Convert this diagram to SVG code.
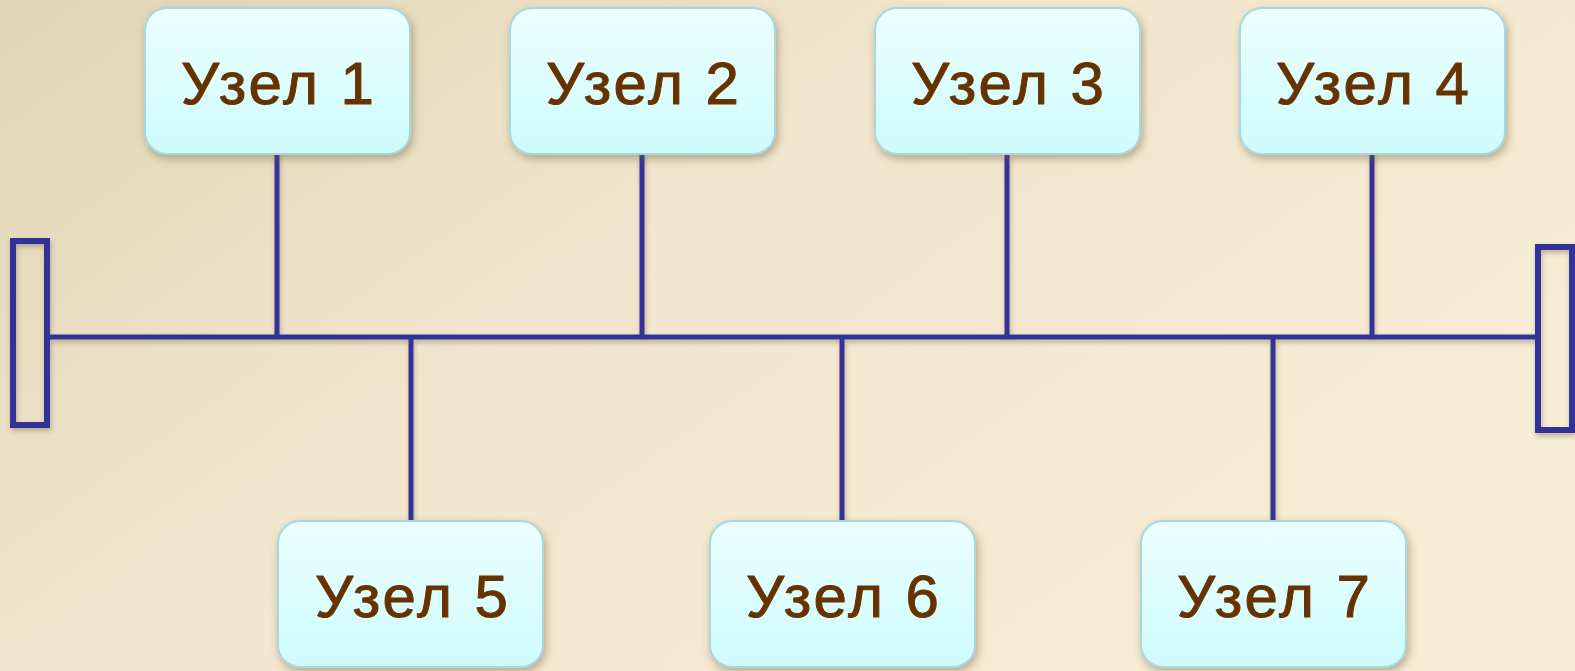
<svg xmlns="http://www.w3.org/2000/svg" width="1575" height="671" viewBox="0 0 1575 671">
  <defs>
    <linearGradient id="bg" x1="0" y1="0" x2="1" y2="0.6">
      <stop offset="0" stop-color="#e0d5b6"/>
      <stop offset="0.45" stop-color="#f1e6cd"/>
      <stop offset="1" stop-color="#f7ecd4"/>
    </linearGradient>
    <linearGradient id="boxFill" x1="0" y1="0" x2="0" y2="1">
      <stop offset="0" stop-color="#ecffff"/>
      <stop offset="1" stop-color="#cefbfd"/>
    </linearGradient>
    <filter id="shadow" x="-20%" y="-20%" width="140%" height="150%">
      <feDropShadow dx="2" dy="4" stdDeviation="4" flood-color="#6b5a3a" flood-opacity="0.45"/>
    </filter>
    <filter id="lineShadow" x="-5%" y="-50%" width="110%" height="200%">
      <feDropShadow dx="1" dy="3" stdDeviation="2.5" flood-color="#6b5a3a" flood-opacity="0.4"/>
    </filter>
  </defs>
  <style>
    .box { fill: url(#boxFill); stroke: #a9d7dc; stroke-width: 2; filter: url(#shadow); }
    .label { font-family: "Liberation Sans", "DejaVu Sans", sans-serif; font-size: 60px; letter-spacing: 3px; fill: #663300; stroke: #663300; stroke-width: 1; stroke-linejoin: round; text-anchor: middle; }
    .wire { stroke: #333399; stroke-width: 5; fill: none; }
    .term { stroke: #333399; stroke-width: 6; fill: none; }
  </style>

  <rect x="0" y="0" width="1575" height="671" fill="url(#bg)"/>

  <!-- bus, terminators and drop lines -->
  <g id="connectors" filter="url(#lineShadow)">
    <line class="wire" x1="48" y1="337" x2="1536" y2="337"/>
    <line class="wire" x1="277" y1="153" x2="277" y2="337"/>
    <line class="wire" x1="642" y1="153" x2="642" y2="337"/>
    <line class="wire" x1="1007" y1="153" x2="1007" y2="337"/>
    <line class="wire" x1="1372" y1="153" x2="1372" y2="337"/>
    <line class="wire" x1="411" y1="337" x2="411" y2="522"/>
    <line class="wire" x1="842" y1="337" x2="842" y2="522"/>
    <line class="wire" x1="1273" y1="337" x2="1273" y2="522"/>
    <rect class="term" x="13" y="241" width="34" height="184"/>
    <rect class="term" x="1538" y="247" width="34" height="183"/>
  </g>

  <g id="node1">
    <rect class="box" x="145" y="8" width="265" height="146" rx="22"/>
    <text class="label" x="279" y="104">Узел 1</text>
  </g>
  <g id="node2">
    <rect class="box" x="510" y="8" width="265" height="146" rx="22"/>
    <text class="label" x="644" y="104">Узел 2</text>
  </g>
  <g id="node3">
    <rect class="box" x="875" y="8" width="265" height="146" rx="22"/>
    <text class="label" x="1009" y="104">Узел 3</text>
  </g>
  <g id="node4">
    <rect class="box" x="1240" y="8" width="265" height="146" rx="22"/>
    <text class="label" x="1374" y="104">Узел 4</text>
  </g>
  <g id="node5">
    <rect class="box" x="278" y="521" width="265" height="146" rx="22"/>
    <text class="label" x="413" y="617">Узел 5</text>
  </g>
  <g id="node6">
    <rect class="box" x="710" y="521" width="265" height="146" rx="22"/>
    <text class="label" x="844" y="617">Узел 6</text>
  </g>
  <g id="node7">
    <rect class="box" x="1141" y="521" width="265" height="146" rx="22"/>
    <text class="label" x="1275" y="617">Узел 7</text>
  </g>
</svg>
